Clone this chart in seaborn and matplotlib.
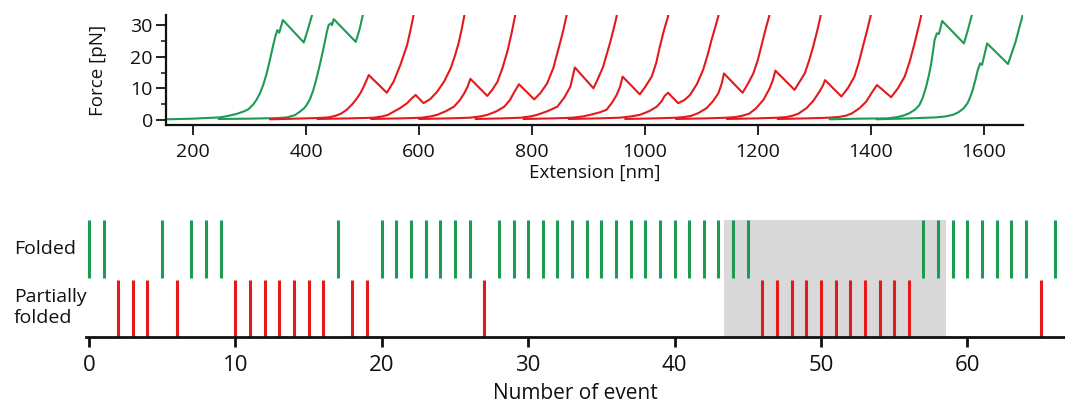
import numpy as np
import pandas as pd
import matplotlib
matplotlib.use("Agg")
import matplotlib.pyplot as plt
import seaborn as sns

GREEN = "#1f9a52"
RED = "#e31a1c"

# ---- force-extension traces: extension [nm], force [pN] ----
g1_ext = [155, 200, 247, 260, 277, 290, 298, 306, 312, 318, 324, 330, 336, 341, 345, 349, 352.5, 359, 396, 403, 410, 413]
g1_force = [0.2, 0.4, 0.8, 1.2, 1.9, 2.7, 3.4, 4.8, 6.3, 8.3, 11, 14.5, 19, 23, 26, 28.4, 27.6, 31.6, 24.5, 28.5, 32.8, 35]

g2_ext = [245, 300, 350, 366, 380, 389, 396, 401, 407, 413, 419, 425, 430, 434, 437, 440, 444, 446, 449, 488, 495, 500, 503]
g2_force = [0.3, 0.4, 0.6, 0.8, 1.5, 2.6, 3.6, 4.7, 6.6, 9.5, 13.5, 17.9, 22, 25.3, 28, 30, 30.6, 30.0, 31.9, 24.7, 28.8, 32.8, 35]

r1_ext = [336, 380, 420, 440, 452, 462, 472, 482, 490, 497, 502, 507, 511, 543, 555, 567, 579, 585, 590, 592]
r1_force = [0.2, 0.4, 0.6, 0.8, 1.3, 2.0, 3.2, 5.0, 6.8, 8.7, 10.5, 12.5, 14.2, 8.6, 12.1, 17.4, 23.7, 28.5, 32.8, 35]

r2_ext = [420, 480, 520, 535, 545, 555, 567, 579, 587, 594, 608, 620, 632, 644, 656, 664, 670, 676, 680, 682]
r2_force = [0.3, 0.5, 0.7, 1.1, 1.6, 2.6, 3.8, 5.3, 6.8, 7.9, 5.3, 6.6, 8.9, 12, 16.3, 20.5, 24.2, 29, 32.8, 35]

r3_ext = [515, 570, 605, 620, 632, 648, 662, 672, 680, 686, 691, 721, 730, 739, 748, 757, 764, 770, 772]
r3_force = [0.3, 0.5, 0.7, 1.1, 1.6, 2.8, 4.2, 6.2, 8.4, 10.5, 13, 7.6, 9.6, 12.1, 16.5, 22, 27.5, 32.8, 35]

r4_ext = [600, 655, 690, 708, 721, 737, 751, 761, 769, 777, 804, 815, 827, 838, 848, 855, 861, 863]
r4_force = [0.3, 0.5, 0.7, 1.1, 1.6, 2.7, 4.2, 6.3, 8.9, 11.3, 6.5, 8.5, 11.6, 16.5, 23.2, 28, 32.8, 35]

r5_ext = [700, 750, 780, 797, 809, 828, 845, 857, 868, 876, 909, 918, 926, 938, 945, 950, 952]
r5_force = [0.3, 0.5, 0.7, 1.1, 1.6, 2.8, 4.2, 7.0, 10.5, 16.6, 10.0, 13.5, 16.8, 24.2, 29, 32.8, 35]

r6_ext = [785, 840, 872, 890, 903, 920, 932, 942, 950, 956, 960.5, 991, 1000, 1012, 1020, 1026.5, 1034, 1041, 1043]
r6_force = [0.3, 0.5, 0.7, 1.1, 1.6, 2.4, 3.2, 5.5, 7.9, 10.5, 13.7, 8.1, 10.3, 13.7, 18, 23.2, 28.5, 32.8, 35]

r7_ext = [865, 920, 955, 975, 991, 1008, 1021, 1030, 1035, 1041, 1059, 1070, 1080, 1092, 1103, 1111, 1118, 1124, 1130, 1132]
r7_force = [0.3, 0.5, 0.7, 1.1, 1.6, 2.8, 4.2, 6.0, 7.6, 8.6, 5.3, 6.3, 7.9, 11.3, 15.8, 20.5, 25.3, 29, 32.8, 35]

r8_ext = [965, 1020, 1055, 1070, 1082, 1095, 1109, 1120, 1130, 1136, 1140, 1173, 1182, 1192, 1200, 1206, 1213, 1220, 1222]
r8_force = [0.3, 0.5, 0.7, 0.9, 1.3, 2.2, 3.7, 5.8, 8.4, 11.5, 14.7, 8.6, 11.3, 14.7, 19, 23.2, 28.2, 32.8, 35]

r9_ext = [1055, 1110, 1145, 1160, 1172, 1185, 1197, 1210, 1221, 1227, 1231, 1265, 1274, 1283, 1291, 1298, 1305, 1311, 1313]
r9_force = [0.3, 0.5, 0.7, 0.9, 1.3, 2.0, 3.7, 6.4, 10, 12.8, 15.6, 9.5, 12.1, 14.7, 18.9, 23.2, 28.1, 32.8, 35]

r10_ext = [1145, 1200, 1235, 1250, 1261, 1272, 1286, 1298, 1309, 1315, 1319, 1348, 1360, 1371, 1379, 1386, 1393, 1399.6, 1402]
r10_force = [0.3, 0.5, 0.7, 0.9, 1.3, 2.0, 3.7, 6.0, 8.9, 10.8, 12.6, 7.4, 10.2, 13.7, 18.3, 23.2, 28, 32.8, 35]

r11_ext = [1235, 1290, 1325, 1342, 1355, 1366, 1380, 1392, 1401, 1407, 1411, 1436, 1448, 1460, 1469, 1477.5, 1484, 1489, 1491]
r11_force = [0.3, 0.5, 0.7, 0.9, 1.3, 2.0, 3.7, 5.8, 8.4, 10, 11.05, 7.2, 10, 13.7, 18.5, 24.2, 29, 32.8, 35]

g3_ext = [1327, 1380, 1430, 1447, 1458, 1468, 1478, 1486, 1492, 1498, 1503, 1507, 1510, 1513, 1517, 1520.6, 1526.5, 1565, 1572, 1579, 1581]
g3_force = [0.2, 0.4, 0.5, 0.9, 1.4, 2.1, 3.2, 4.7, 7.0, 10.5, 14.2, 17.9, 21.5, 25.3, 27.4, 27.2, 31.3, 24.2, 28.5, 33.2, 35]

g4_ext = [1410, 1470, 1515, 1532, 1545, 1555, 1564, 1571, 1576, 1580.5, 1585, 1589.5, 1593.6, 1597, 1606, 1643, 1656, 1669, 1671]
g4_force = [0.2, 0.5, 0.8, 1.1, 1.6, 2.4, 3.6, 5.2, 7.2, 9.5, 12.5, 15.8, 17.9, 17.4, 24.2, 17.7, 24.5, 33.2, 35]

traces = [
    ("g1", g1_ext, g1_force, GREEN), ("g2", g2_ext, g2_force, GREEN),
    ("r1", r1_ext, r1_force, RED), ("r2", r2_ext, r2_force, RED),
    ("r3", r3_ext, r3_force, RED), ("r4", r4_ext, r4_force, RED),
    ("r5", r5_ext, r5_force, RED), ("r6", r6_ext, r6_force, RED),
    ("r7", r7_ext, r7_force, RED), ("r8", r8_ext, r8_force, RED),
    ("r9", r9_ext, r9_force, RED), ("r10", r10_ext, r10_force, RED),
    ("r11", r11_ext, r11_force, RED),
    ("g3", g3_ext, g3_force, GREEN), ("g4", g4_ext, g4_force, GREEN),
]

# ---- event raster ----
folded_events = [0, 1, 5, 7, 8, 9, 17, 20, 21, 22, 23, 24, 25, 26,
                 28, 29, 30, 31, 32, 33, 34, 35, 36, 37, 38, 39, 40, 41, 42, 43, 44, 45,
                 57, 58, 59, 60, 61, 62, 63, 64, 66]
partial_events = [2, 3, 4, 6, 10, 11, 12, 13, 14, 15, 16, 18, 19, 27,
                  46, 47, 48, 49, 50, 51, 52, 53, 54, 55, 56, 65]
highlight_range = [43.37, 58.55]
event_ticks = [0, 10, 20, 30, 40, 50, 60]
ext_ticks = [200, 400, 600, 800, 1000, 1200, 1400, 1600]
force_ticks = [0, 10, 20, 30]
force_minor = [5, 15, 25]

sns.set_theme(style="ticks")
plt.rcParams["font.family"] = ["Open Sans", "DejaVu Sans"]
plt.rcParams["axes.linewidth"] = 1.5

INK = "#111111"
fig = plt.figure(figsize=(10.65, 4.03), dpi=100)

# ---- top panel ----
ax1 = fig.add_axes([166 / 1065, 1 - 125.3 / 403, (1022.7 - 166) / 1065, (125.3 - 15) / 403])
rows = []
for name, xs, ys, _ in traces:
    for x, y in zip(xs, ys):
        rows.append({"curve": name, "ext": x, "force": y})
df = pd.DataFrame(rows)
palette = {name: c for name, _, _, c in traces}
sns.lineplot(data=df, x="ext", y="force", hue="curve", palette=palette,
             sort=False, estimator=None, legend=False, linewidth=1.5, ax=ax1)
ax1.set_xlim(152, 1669)
ax1.set_ylim(-1.7, 33.2)
ax1.set_xticks(ext_ticks)
ax1.set_yticks(force_ticks)
ax1.set_yticks(force_minor, minor=True)
sns.despine(ax=ax1)
for s in ("left", "bottom"):
    ax1.spines[s].set_color(INK)
    ax1.spines[s].set_linewidth(1.6)
ax1.tick_params(axis="both", which="major", direction="out", length=7, width=1.3,
                color=INK, labelsize=14, labelcolor=INK)
ax1.tick_params(axis="x", pad=6)
ax1.tick_params(axis="y", pad=2.5)
ax1.tick_params(axis="y", which="minor", direction="out", length=3.5, width=1.1, color=INK)
ax1.set_xlabel("Extension [nm]", fontsize=13.5, color=INK, labelpad=2)
ax1.set_ylabel("Force [pN]", fontsize=13.5, color=INK, labelpad=17)

# ---- bottom panel ----
ax2 = fig.add_axes([86 / 1065, 1 - 337 / 403, 978 / 1065, 117.4 / 403])
ax2.axvspan(highlight_range[0], highlight_range[1], ymin=0, ymax=1,
            color="#d9d9d9", lw=0, zorder=0)
ax2.vlines(folded_events, 1.0, 2.0, color=GREEN, linewidth=2.2, zorder=2)
ax2.vlines(partial_events, 0.0, 0.97, color=RED, linewidth=2.2, zorder=2)
ax2.set_xlim(-0.2, 66.6)
ax2.set_ylim(0, 2.0)
ax2.set_xticks(event_ticks)
ax2.set_yticks([])
sns.despine(ax=ax2, left=True)
ax2.spines["bottom"].set_color(INK)
ax2.spines["bottom"].set_linewidth(2.0)
ax2.tick_params(axis="x", direction="out", length=7, width=2.0, color=INK,
                labelsize=16, labelcolor=INK, pad=6)
ax2.set_xlabel("Number of event", fontsize=15, color=INK, labelpad=5)

fig.text(14 / 1065, 1 - 254 / 403, "Folded", fontsize=14, color=INK,
         ha="left", va="baseline")
fig.text(14 / 1065, 1 - 323 / 403, "Partially\nfolded", fontsize=14, color=INK,
         ha="left", va="baseline", linespacing=1.2)

fig.savefig("out.png", dpi=100)
